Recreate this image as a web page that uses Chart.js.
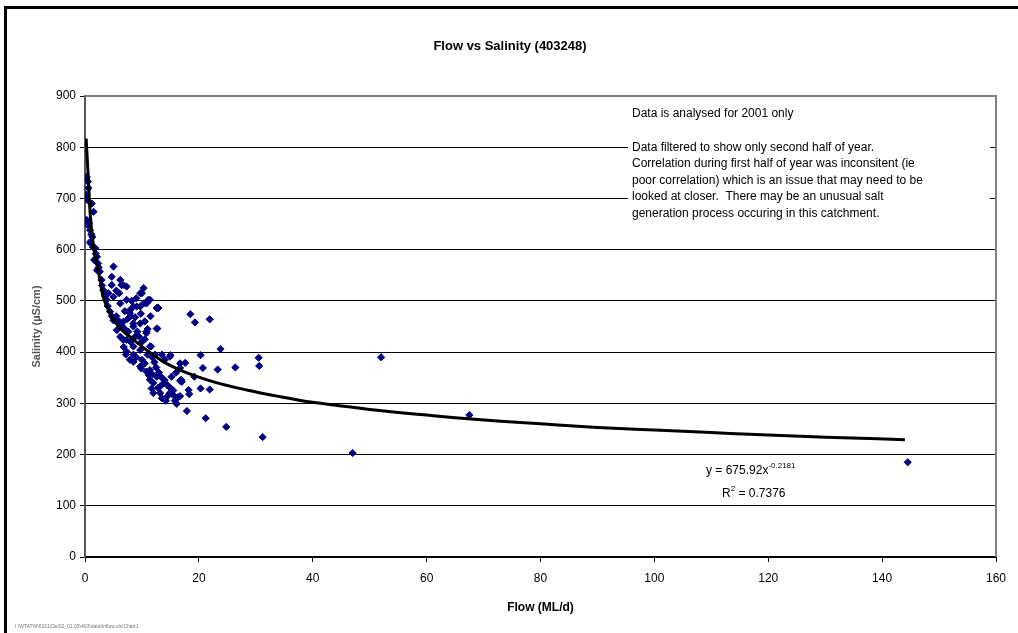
<!DOCTYPE html>
<html>
<head>
<meta charset="utf-8">
<script src="https://cdn.jsdelivr.net/npm/chart.js@4/dist/chart.umd.min.js"></script>
<style>
  html, body { margin: 0; padding: 0; background: #fff; }
  #wrap { width: 1018px; height: 633px; position: relative; }
</style>
</head>
<body>
<div id="wrap"><canvas id="chart"></canvas></div>
<script>
// Flow (ML/d) vs salinity readings, second half of 2001
const flowX = [
  0.3, 0.5, 0.6, 0.2, 0.4, 1.2, 1.5, 0.3, 0.5, 0.9, 1.3, 1.0, 1.8, 2.1, 2.3, 2.6, 2.9, 2.1, 1.6, 0.7,
  0.9, 1.1, 1.4, 1.9, 2.4, 3.0, 3.2, 3.5, 3.8, 4.1, 4.4, 4.0, 4.7, 5.0,
  5.0, 4.7, 4.7, 6.4, 7.3, 6.7, 6.2, 5.0, 6.2, 7.3, 8.5, 10.3, 10.3, 10.0, 9.7, 11.4, 11.1, 12.9, 12.6, 12.8,
  9.1, 7.9, 6.7, 8.5, 9.7, 7.9, 9.7, 10.8, 5.6, 6.7, 8.5, 12.6, 12.7, 10.8, 10.8, 6.2, 7.3, 8.5, 9.7, 11.4, 11.6,
  7.3, 7.9, 8.5, 9.7, 9.9, 10.8, 11.4, 11.4, 11.7, 12.6, 13.2, 14.4, 15.5, 13.8, 13.2, 12.0, 14.9, 14.9, 15.0,
  16.7, 17.6, 16.7, 16.9, 16.1, 17.9, 18.5, 19.3, 21.9, 23.8, 20.3, 20.7, 23.3, 26.4, 30.5, 30.6, 16.7, 19.2,
  17.0, 18.2, 18.3, 20.3, 21.9, 16.7, 21.2, 24.8, 31.2,
  5.5, 6.0, 6.5, 7.0, 7.5, 8.0, 8.8, 9.2, 9.5, 10.0, 10.5, 11.0, 11.8, 12.2, 12.5, 13.0, 13.5, 14.0, 14.5, 15.0,
  15.5, 8.0, 8.5, 9.0, 10.0, 10.5, 11.2, 12.0, 12.8, 13.5, 14.2, 15.8, 16.3, 7.0, 8.2, 9.0, 6.0, 5.5, 11.5, 10.5,
  13.5, 14.0, 12.3, 15.2, 16.0, 11.0, 9.8, 8.8, 7.6, 6.8, 7.2, 11.8,
  47.0, 52.0, 67.5, 144.5
];
const salinity = [
  742, 733, 720, 707, 697, 690, 674, 658, 648, 638, 625, 612, 603, 586, 573, 557, 541, 560, 580, 652,
  615, 630, 605, 592, 565, 530, 521, 510, 502, 515, 479, 490, 470, 462,
  567, 547, 531, 531, 528, 531, 541, 508, 495, 502, 489, 495, 525, 515, 515, 502, 502, 486, 486, 487,
  489, 476, 459, 456, 456, 482, 489, 495, 443, 424, 450, 446, 446, 440, 437, 430, 424, 411, 404, 411, 411,
  401, 385, 381, 372, 368, 362, 365, 346, 329, 352, 320, 313, 316, 339, 333, 320, 320, 391, 394,
  378, 379, 344, 346, 299, 285, 474, 458, 464, 406, 394, 369, 366, 370, 389, 373, 369, 352,
  342, 326, 318, 329, 327, 314, 271, 254, 234,
  470, 460, 450, 445, 465, 470, 468, 440, 430, 420, 425, 395, 390, 380, 370, 360, 350, 345, 335, 330,
  325, 420, 395, 390, 385, 378, 355, 340, 330, 310, 305, 305, 312, 480, 500, 505, 515, 520, 470, 460,
  395, 385, 395, 352, 360, 445, 475, 430, 440, 410, 395, 357,
  203, 390, 277, 185
];

// Power trendline as it is drawn in the picture
const trendX = [0.2, 0.6, 0.9, 1.5, 2.3, 3.2, 4.7, 6.2, 7.9, 10.8, 13.8, 16.7, 22.6, 28.4, 34.3, 40, 45, 50, 55, 60, 65, 73, 80, 90, 100, 110, 120, 130, 144];
const trendY = [817, 736, 671, 606, 560, 508, 469, 446, 430, 404, 381, 365, 342, 326, 313, 302, 295, 288, 282, 277, 272, 265, 260, 253, 248, 243, 238, 234, 229];

const xTicks = [0, 20, 40, 60, 80, 100, 120, 140, 160];
const yTicks = [0, 100, 200, 300, 400, 500, 600, 700, 800, 900];

const chartTitle = 'Flow vs Salinity (403248)';
const xTitle = 'Flow (ML/d)';
const yTitle = 'Salinity (\u00b5S/cm)';
const noteLines = [
  'Data is analysed for 2001 only',
  '',
  'Data filtered to show only second half of year.',
  'Correlation during first half of year was inconsitent (ie',
  'poor correlation) which is an issue that may need to be',
  'looked at closer.  There may be an unusual salt',
  'generation process occuring in this catchment.'
];
const footerPath = 'I:\\WTATW\\6161\\Del02_01.05\\403\\data\\Inflow.xls!Chart1';

const FONT = "'Liberation Sans', Arial, sans-serif";

const pad = { left: 30, right: 22, top: 96, bottom: 18 };

// Frame, title, text box and equation drawn over the chart
const decorPlugin = {
    id: 'decor',
    beforeDraw(chart) {
        const ctx = chart.ctx;
        ctx.save();
        ctx.fillStyle = '#fff';
        ctx.fillRect(0, 0, chart.width, chart.height);
        ctx.restore();
    },
    beforeDatasetsDraw(chart) {
        const ctx = chart.ctx;
        const a = chart.chartArea;
        ctx.save();
        // text box covers gridlines
        ctx.fillStyle = '#fff';
        ctx.fillRect(628, a.top + 3, 990 - 628, 240 - a.top - 3);
        ctx.fillStyle = '#000';
        ctx.font = '12px ' + FONT;
        ctx.textBaseline = 'middle';
        noteLines.forEach((t, i) => ctx.fillText(t, 632, 114 + i * 16.6));
        ctx.restore();
    },
    afterDraw(chart) {
        const ctx = chart.ctx;
        const a = chart.chartArea;
        ctx.save();
        // plot area top / right edges
        ctx.strokeStyle = '#808080';
        ctx.lineWidth = 2;
        ctx.beginPath();
        ctx.moveTo(a.left, a.top);
        ctx.lineTo(a.right, a.top);
        ctx.lineTo(a.right, a.bottom);
        ctx.stroke();

        // outer chart frame
        ctx.strokeStyle = '#000';
        ctx.lineWidth = 3;
        ctx.beginPath();
        ctx.moveTo(5.5, chart.height + 5);
        ctx.lineTo(5.5, 7.5);
        ctx.lineTo(chart.width + 5, 7.5);
        ctx.stroke();

        // title
        ctx.fillStyle = '#000';
        ctx.font = 'bold 13px ' + FONT;
        ctx.textAlign = 'center';
        ctx.textBaseline = 'middle';
        ctx.fillText(chartTitle, 510, 46);

        // trendline equation
        ctx.textAlign = 'left';
        ctx.textBaseline = 'alphabetic';
        ctx.font = '12px ' + FONT;
        let x = 706;
        const s1 = 'y = 675.92x';
        ctx.fillText(s1, x, 474);
        x += ctx.measureText(s1).width;
        ctx.font = '8px ' + FONT;
        ctx.fillText('-0.2181', x, 468);

        x = 722;
        ctx.font = '12px ' + FONT;
        ctx.fillText('R', x, 497);
        x += ctx.measureText('R').width;
        ctx.font = '8px ' + FONT;
        ctx.fillText('2', x, 491);
        x += ctx.measureText('2').width;
        ctx.font = '12px ' + FONT;
        ctx.fillText(' = 0.7376', x, 497);

        // file path footer
        ctx.fillStyle = '#777';
        ctx.font = '5px ' + FONT;
        ctx.fillText(footerPath, 15, 628);
        ctx.restore();
    }
};

new Chart(document.getElementById('chart').getContext('2d'), {
    type: 'scatter',
    data: {
        datasets: [{
            data: flowX.map((x, i) => ({ x: x, y: salinity[i] })),
            pointStyle: 'rectRot',
            pointRadius: 3.6,
            pointBorderWidth: 1,
            backgroundColor: '#000080',
            borderColor: '#000080',
            order: 2
        }, {
            type: 'line',
            data: trendX.map((x, i) => ({ x: x, y: trendY[i] })),
            borderColor: '#000',
            borderWidth: 3,
            pointRadius: 0,
            tension: 0.4,
            cubicInterpolationMode: 'monotone',
            fill: false,
            order: 1
        }]
    },
    options: {
        responsive: true,
        maintainAspectRatio: false,
        animation: false,
        layout: { padding: pad },
        plugins: { legend: { display: false }, tooltip: { enabled: false }, title: { display: false } },
        scales: {
            x: {
                type: 'linear',
                min: 0, max: 160,
                afterBuildTicks: s => { s.ticks = xTicks.map(v => ({ value: v })); },
                afterFit: s => { s.height = 633 - 557 - pad.bottom; },
                ticks: { color: '#000', font: { family: FONT, size: 12 }, padding: 9 },
                grid: { drawOnChartArea: false, drawTicks: true, tickLength: 5, color: '#000', lineWidth: 1 },
                border: { color: '#000', width: 2 },
                title: { display: true, text: xTitle, color: '#000', font: { family: FONT, size: 12, weight: 'bold' }, padding: { top: 0, bottom: 0 } }
            },
            y: {
                type: 'linear',
                min: 0, max: 900,
                afterBuildTicks: s => { s.ticks = yTicks.map(v => ({ value: v })); },
                afterFit: s => { s.width = 85 - pad.left; },
                ticks: { color: '#000', font: { family: FONT, size: 12 }, padding: 4 },
                grid: { color: '#000', lineWidth: 1, tickLength: 5, drawTicks: true },
                border: { color: '#555', width: 2 },
                title: { display: true, text: yTitle, color: '#555', font: { family: FONT, size: 11, weight: 'bold' }, padding: { top: 0, bottom: 0 } }
            }
        }
    },
    plugins: [decorPlugin]
});
</script>
</body>
</html>
